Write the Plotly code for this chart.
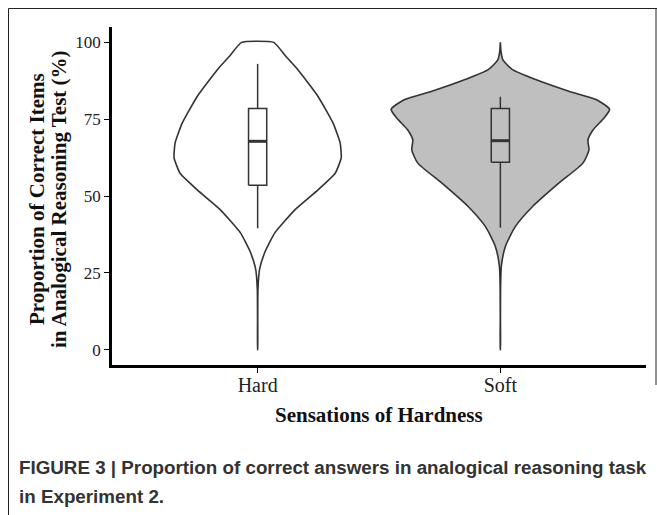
import plotly.graph_objects as go

# ---------------- data ----------------
categories = ["Hard", "Soft"]
positions = [1, 2]

# violin outline: score levels and relative density (max of all = 1)
hard_y = [100, 95.5, 91.1, 82.4, 73.7, 67.2, 62.4, 57.4, 52.0, 45.5, 38.0, 31.6, 26.2, 19.7, 10, 0]
hard_d = [0.147, 0.258, 0.369, 0.553, 0.691, 0.756, 0.765, 0.710, 0.553, 0.341, 0.157, 0.065, 0.018, 0.003, 0.001, 0.0005]

soft_y = [100, 97, 94.4, 91.1, 87.9, 84.1, 81.4, 78.2, 75.4, 71.5, 68.3, 65.0, 60.7, 54.2, 46.6, 40.1, 33.6, 27.2, 20, 10, 0]
soft_d = [0.0, 0.006, 0.022, 0.111, 0.323, 0.627, 0.876, 1.0, 0.949, 0.848, 0.802, 0.811, 0.756, 0.535, 0.295, 0.138, 0.046, 0.009, 0.002, 0.001, 0.0005]

# box statistics
q1 = [53.5, 61.0]
median = [67.8, 68.0]
q3 = [78.5, 78.5]
lower_whisker = [39.5, 39.7]
upper_whisker = [93.0, 82.3]

y_ticks = [0, 25, 50, 75, 100]

# ---------------- style ----------------
HALF = 0.45        # max violin half-width in category units
BOX_W = 0.075
OUT = "#333333"
fills = ["white", "#bfbfbf"]
smooth = [0.45, 0.6]

fig = go.Figure()

for pos, ys, ds, fc, sm in [(positions[0], hard_y, hard_d, fills[0], smooth[0]),
                             (positions[1], soft_y, soft_d, fills[1], smooth[1])]:
    xr = [pos + d * HALF for d in ds]
    xl = [pos - d * HALF for d in ds]
    xs = xr + xl[::-1] + [xr[0]]
    yy = ys + ys[::-1] + [ys[0]]
    fig.add_trace(go.Scatter(x=xs, y=yy, mode="lines", fill="toself",
                             fillcolor=fc, line=dict(color=OUT, width=1.6, shape="spline", smoothing=sm),
                             hoverinfo="skip", showlegend=False))

for i, pos in enumerate(positions):
    a, b = pos - BOX_W / 2, pos + BOX_W / 2
    # whiskers
    fig.add_trace(go.Scatter(x=[pos, pos], y=[q3[i], upper_whisker[i]], mode="lines",
                             line=dict(color=OUT, width=1.5), hoverinfo="skip", showlegend=False))
    fig.add_trace(go.Scatter(x=[pos, pos], y=[q1[i], lower_whisker[i]], mode="lines",
                             line=dict(color=OUT, width=1.5), hoverinfo="skip", showlegend=False))
    # box
    fig.add_trace(go.Scatter(x=[a, b, b, a, a], y=[q1[i], q1[i], q3[i], q3[i], q1[i]], mode="lines",
                             line=dict(color=OUT, width=1.5), hoverinfo="skip", showlegend=False))
    # median
    fig.add_trace(go.Scatter(x=[a, b], y=[median[i], median[i]], mode="lines",
                             line=dict(color=OUT, width=3), hoverinfo="skip", showlegend=False))

W, H = 657, 515
L, R, T, B = 112, 11, 27, 150
pw, ph = W - L - R, H - T - B

def px(x):
    return (x - L) / pw

def py(y):
    return (H - B - y) / ph

title_font = dict(size=21, family="Liberation Serif", color="#111111")
cap_font = dict(size=18.8, family="Liberation Sans", color="#333333")

fig.update_layout(
    width=W, height=H,
    margin=dict(l=L, r=R, t=T, b=B),
    paper_bgcolor="white", plot_bgcolor="white",
    font=dict(family="Liberation Serif", color="#222222"),
    xaxis=dict(range=[0.4, 2.6], tickvals=positions, ticktext=categories,
               showline=True, linecolor="black", linewidth=2.5, ticks="outside",
               ticklen=5, tickwidth=1, tickcolor="black", showgrid=False, zeroline=False,
               ticklabelstandoff=-5,
               tickfont=dict(size=20, family="Liberation Serif", color="#222222")),
    yaxis=dict(range=[-5, 105], tickvals=y_ticks,
               showline=True, linecolor="black", linewidth=2.5, ticks="outside",
               ticklen=5, tickwidth=1, tickcolor="black", showgrid=False, zeroline=False,
               tickfont=dict(size=17, family="Liberation Serif", color="#222222")),
    annotations=[
        dict(text="<b>Sensations of Hardness</b>", xref="paper", yref="paper",
             x=0.5, y=py(415), xanchor="center", yanchor="middle", showarrow=False,
             font=title_font),
        dict(text="<b>Proportion of Correct Items</b>",
             xref="paper", yref="paper", x=px(37), y=py(199), xanchor="center", yanchor="middle",
             textangle=-90, showarrow=False, font=title_font),
        dict(text="<b>in Analogical Reasoning Test (%)</b>",
             xref="paper", yref="paper", x=px(59), y=py(199), xanchor="center", yanchor="middle",
             textangle=-90, showarrow=False, font=title_font),
        dict(text="<b>FIGURE 3 | Proportion of correct answers in analogical reasoning task</b>",
             xref="paper", yref="paper", x=px(17), y=py(467), xanchor="left", yanchor="middle",
             showarrow=False, font=cap_font),
        dict(text="<b>in Experiment 2.</b>",
             xref="paper", yref="paper", x=px(17), y=py(496), xanchor="left", yanchor="middle",
             showarrow=False, font=cap_font),
    ],
    shapes=[
        dict(type="line", xref="paper", yref="paper", x0=px(8.5), x1=px(8.5), y0=py(8.5), y1=py(515),
             line=dict(color="#222222", width=1)),
        dict(type="line", xref="paper", yref="paper", x0=px(8.5), x1=px(657), y0=py(8.5), y1=py(8.5),
             line=dict(color="#222222", width=1)),
        dict(type="line", xref="paper", yref="paper", x0=px(656), x1=px(656), y0=py(8.5), y1=py(385),
             line=dict(color="#222222", width=1)),
    ],
)

fig.write_html("out.html", config={"displayModeBar": False},
               post_script="document.body.style.margin='0';")
